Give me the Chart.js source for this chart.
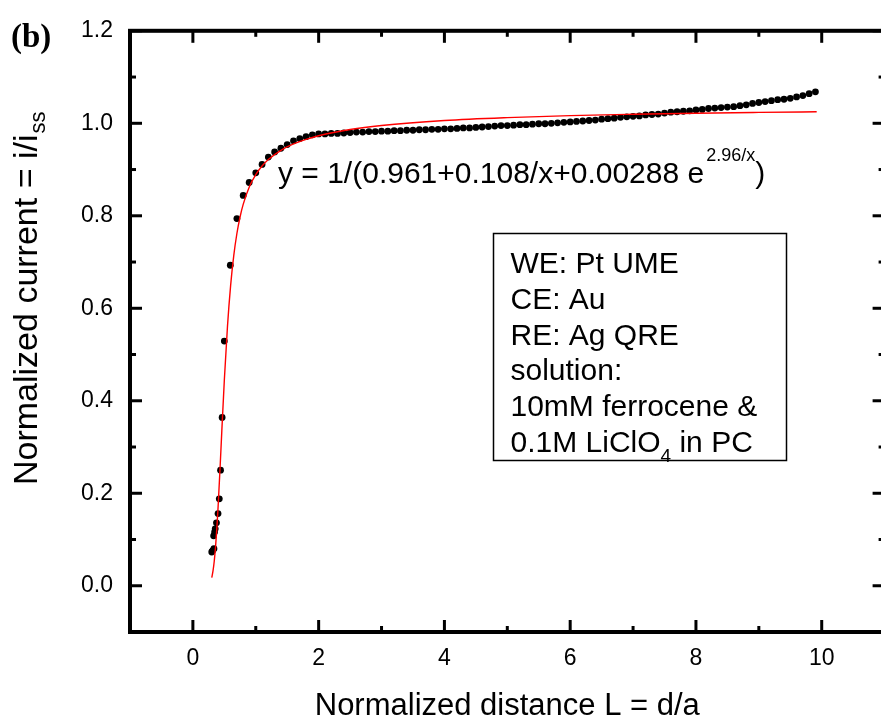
<!DOCTYPE html>
<html><head><meta charset="utf-8">
<script src="https://cdn.jsdelivr.net/npm/chart.js@4.4.1/dist/chart.umd.min.js"></script>
<style>
html,body{margin:0;padding:0;overflow:hidden;background:#fff;width:881px;height:720px}
#wrap{position:absolute;left:0;top:0;width:900px;height:720px}
</style></head>
<body><div id="wrap"><canvas id="c" width="900" height="720" style="width:900px;height:720px"></canvas></div>
<script>
// Measured points: normalized distance L = d/a and normalized current i/iss
const distanceX = [0.30,0.315,0.335,0.33,0.345,0.355,0.375,0.40,0.42,0.44,0.465,0.50,0.595,0.70,0.80,0.895,
  1.0,1.1,1.2,1.3,1.4,1.5,1.6,1.7,1.8,1.9,2.0,2.1,2.2,2.3,2.4,2.5,2.6,2.7,2.8,2.9,
  3.0,3.1,3.2,3.3,3.4,3.5,3.6,3.7,3.8,3.9,4.0,4.1,4.2,4.3,4.4,4.5,4.6,4.7,4.8,4.9,
  5.0,5.1,5.2,5.3,5.4,5.5,5.6,5.7,5.8,5.9,6.0,6.1,6.2,6.3,6.4,6.5,6.6,6.7,6.8,6.9,
  7.0,7.1,7.2,7.3,7.4,7.5,7.6,7.7,7.8,7.9,8.0,8.1,8.2,8.3,8.4,8.5,8.6,8.7,8.8,8.9,
  9.0,9.1,9.2,9.3,9.4,9.5,9.6,9.7,9.8,9.9];
const currentY = [0.073,0.076,0.080,0.108,0.116,0.123,0.136,0.156,0.188,0.250,0.364,0.529,0.693,0.794,0.844,0.872,
  0.893,0.911,0.927,0.938,0.946,0.954,0.962,0.967,0.971,0.975,0.977,0.977,0.978,0.978,0.979,0.980,0.981,0.981,0.982,0.982,
  0.983,0.983,0.984,0.984,0.985,0.985,0.986,0.986,0.987,0.987,0.988,0.988,0.989,0.990,0.990,0.991,0.992,0.993,0.994,0.995,
  0.995,0.996,0.997,0.997,0.998,0.999,0.999,1.000,1.001,1.002,1.003,1.004,1.005,1.006,1.007,1.009,1.010,1.011,1.013,1.014,
  1.015,1.016,1.018,1.019,1.020,1.022,1.024,1.025,1.026,1.027,1.029,1.030,1.032,1.033,1.034,1.035,1.036,1.038,1.040,1.043,
  1.045,1.047,1.049,1.051,1.052,1.054,1.057,1.060,1.064,1.068];
// Fitted curve (red line)
const fitX = [0.30,0.32,0.34,0.36,0.38,0.40,0.43,0.46,0.50,0.55,0.60,0.65,0.70,0.75,0.80,0.90,1.0,1.1,1.2,1.4,1.6,1.8,2.0,2.5,3,4,5,6,7,8,9,9.92];
const fitY = [0.0176,0.0320,0.0536,0.0835,0.1219,0.1683,0.2485,0.3343,0.4445,0.5607,0.6490,0.7139,0.7617,0.7974,0.8247,0.8634,0.8892,0.9077,0.9217,0.9416,0.9553,0.9653,0.9731,0.9866,0.9953,1.0060,1.0123,1.0166,1.0195,1.0218,1.0235,1.0248];
const xTickValues = [0,2,4,6,8,10];
const xMinorValues = [1,3,5,7,9];
const yTickValues = [0,0.2,0.4,0.6,0.8,1.0,1.2];
const yMinorValues = [0.1,0.3,0.5,0.7,0.9,1.1];
const xTitle = 'Normalized distance L = d/a';
const yTitleMain = 'Normalized current = i/i';
const yTitleSub = 'ss';
const panelLabel = '(b)';
const eqMain = 'y = 1/(0.961+0.108/x+0.00288 e';
const eqSup = '2.96/x';
const eqEnd = ')';
const boxLines = ['WE: Pt UME','CE: Au','RE: Ag QRE','solution:','10mM ferrocene &'];
const boxLast = ['0.1M LiClO','4',' in PC'];

const SANS = '"Liberation Sans", Arial, sans-serif';
const SERIF = '"Liberation Serif", "Times New Roman", serif';

const decor = {
  id: 'decor',
  afterDraw(chart) {
    const ctx = chart.ctx, a = chart.chartArea;
    const xs = chart.scales.x, ys = chart.scales.y;
    ctx.save();
    ctx.strokeStyle = '#000'; ctx.fillStyle = '#000';
    ctx.lineWidth = 3;
    const tick = (x1,y1,x2,y2)=>{ctx.beginPath();ctx.moveTo(x1,y1);ctx.lineTo(x2,y2);ctx.stroke();};
    xTickValues.forEach(v=>{const p=xs.getPixelForValue(v);tick(p,a.bottom,p,a.bottom-12);tick(p,a.top,p,a.top+12);});
    xMinorValues.forEach(v=>{const p=xs.getPixelForValue(v);tick(p,a.bottom,p,a.bottom-6);tick(p,a.top,p,a.top+6);});
    yTickValues.forEach(v=>{const p=ys.getPixelForValue(v);tick(a.left,p,a.left+12,p);tick(a.right,p,a.right-12,p);});
    yMinorValues.forEach(v=>{const p=ys.getPixelForValue(v);tick(a.left,p,a.left+6,p);tick(a.right,p,a.right-6,p);});
    ctx.lineWidth = 4;
    ctx.strokeRect(a.left, a.top, a.right-a.left, a.bottom-a.top);
    ctx.textBaseline = 'alphabetic';
    ctx.font = '31px ' + SANS;
    ctx.textAlign = 'center';
    ctx.fillText(xTitle, (a.left+a.right)/2, 715);
    ctx.save();
    ctx.translate(37, 485);
    ctx.rotate(-Math.PI/2);
    ctx.textAlign = 'left';
    ctx.font = '34px ' + SANS;
    ctx.fillText(yTitleMain, 0, 0);
    const w = ctx.measureText(yTitleMain).width;
    ctx.font = '22px ' + SANS;
    ctx.fillText(yTitleSub, w + 1, 8);
    ctx.restore();
    ctx.textAlign = 'left';
    ctx.font = 'bold 33px ' + SERIF;
    ctx.fillText(panelLabel, 11, 47);
    ctx.font = '30px ' + SANS;
    ctx.fillText(eqMain, 278, 183);
    let ex = 278 + ctx.measureText(eqMain).width + 2;
    ctx.font = '18px ' + SANS;
    ctx.fillText(eqSup, ex, 161);
    ex += ctx.measureText(eqSup).width;
    ctx.font = '30px ' + SANS;
    ctx.fillText(eqEnd, ex, 183);
    ctx.lineWidth = 1.5;
    ctx.strokeRect(493.5, 233.5, 293, 227);
    ctx.font = '30px ' + SANS;
    const base = [273, 309, 344.5, 380, 416, 451.5];
    boxLines.forEach((t,i)=>ctx.fillText(t, 510.5, base[i]));
    let bx = 510.5;
    ctx.fillText(boxLast[0], bx, base[5]); bx += ctx.measureText(boxLast[0]).width;
    ctx.font = '19px ' + SANS;
    ctx.fillText(boxLast[1], bx, base[5] + 10); bx += ctx.measureText(boxLast[1]).width;
    ctx.font = '30px ' + SANS;
    ctx.fillText(boxLast[2], bx, base[5]);
    ctx.restore();
  }
};

new Chart(document.getElementById('c'), {
  type: 'scatter',
  data: {
    datasets: [
      {
        label: 'fit',
        data: fitX.map((x,i)=>({x, y: fitY[i]})),
        showLine: true,
        borderColor: '#ff0000',
        borderWidth: 1.4,
        pointRadius: 0,
        cubicInterpolationMode: 'monotone',
        order: 0
      },
      {
        label: 'data',
        data: distanceX.map((x,i)=>({x, y: currentY[i]})),
        showLine: false,
        pointRadius: 3.4,
        pointBackgroundColor: '#000',
        pointBorderWidth: 0,
        borderColor: '#000',
        order: 1
      }
    ]
  },
  options: {
    responsive: false,
    devicePixelRatio: 1,
    animation: false,
    layout: { padding: { left: 0, top: 24, right: 15.4, bottom: 0 } },
    plugins: { legend: { display: false }, tooltip: { enabled: false } },
    scales: {
      x: {
        type: 'linear', min: -1, max: 11,
        grid: { display: false, drawTicks: false },
        border: { display: false },
        afterBuildTicks: s => { s.ticks = xTickValues.map(v=>({value:v})); },
        afterFit: s => { s.height = 88; },
        ticks: { autoSkip: false, maxRotation: 0, padding: 13, color: '#000',
          font: { family: SANS, size: 23 }, callback: v => String(v) }
      },
      y: {
        type: 'linear', min: -0.1, max: 1.2,
        grid: { display: false, drawTicks: false },
        border: { display: false },
        afterBuildTicks: s => { s.ticks = yTickValues.map(v=>({value:v})); },
        afterFit: s => { s.width = 130; },
        ticks: { autoSkip: false, padding: 17, color: '#000',
          font: { family: SANS, size: 23 }, callback: v => Number(v).toFixed(1) }
      }
    }
  },
  plugins: [decor]
});
</script></body></html>
